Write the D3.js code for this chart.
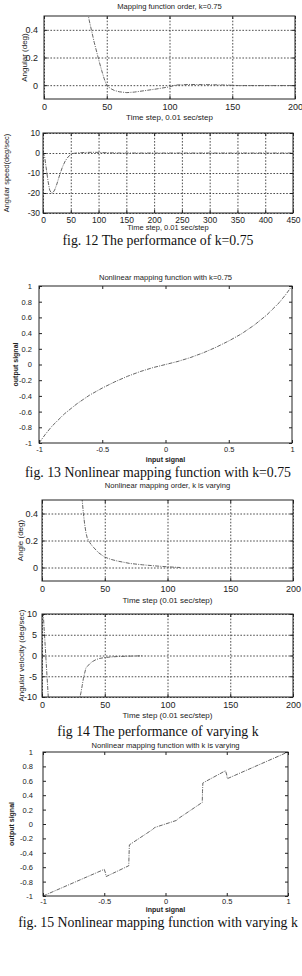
<!DOCTYPE html>
<html>
<head>
<meta charset="utf-8">
<script src="https://cdn.jsdelivr.net/npm/d3@7"></script>
<style>
  body { margin: 0; background: #fff; }
  svg { display: block; }
  .lbl { font-family: "Liberation Sans", Arial, sans-serif; fill: #222; }
  .cap { font-family: "Liberation Serif", "Times New Roman", serif; fill: #111; }
</style>
</head>
<body>
<svg id="chart" width="302" height="976"></svg>
<script>
// fig. 12, top: angle vs time step
const t12a = [30, 33, 35, 36, 38, 40, 42, 44, 46, 48, 50, 53, 56, 60, 66, 72, 80, 90, 100, 105, 115, 130, 145, 155, 170, 200];
const ang12 = [0.9, 0.62, 0.52, 0.47, 0.39, 0.31, 0.24, 0.17, 0.105, 0.045, -0.003, -0.024, -0.038, -0.048, -0.054, -0.05, -0.04, -0.027, -0.012, 0.001, 0.005, 0.004, 0.001, -0.003, -0.003, -0.003];

// fig. 12, bottom: angular speed
const t12s = [0, 3, 6, 9, 12, 15, 18, 21, 25, 30, 35, 40, 45, 50, 55, 60, 70, 80, 90, 100, 110, 120, 140, 160, 200, 250, 300, 350, 400, 450];
const spd12 = [0.5, -2, -8, -14, -18.5, -20, -19.8, -18.5, -15.5, -11, -7, -4, -2, -0.8, -0.2, 0, 0.2, 0.3, 0.35, 0.3, 0.2, 0.1, 0, 0, 0, 0, 0, 0, 0, 0];

// fig. 13: mapping function, k=0.75
const in13 = [-1, -0.95, -0.9, -0.8, -0.7, -0.6, -0.5, -0.4, -0.3, -0.2, -0.1, 0, 0.1, 0.2, 0.3, 0.4, 0.5, 0.6, 0.7, 0.8, 0.9, 0.95, 1];
const out13 = [-1, -0.89, -0.79, -0.63, -0.5, -0.39, -0.3, -0.22, -0.15, -0.09, -0.04, 0, 0.04, 0.09, 0.15, 0.22, 0.3, 0.39, 0.5, 0.63, 0.79, 0.89, 1];

// fig. 14, top: angle
const t14a = [28, 32, 33, 34, 35, 36, 38, 40, 45, 50, 55, 60, 70, 80, 90, 100, 110];
const ang14 = [0.9, 0.5, 0.4, 0.32, 0.26, 0.22, 0.185, 0.16, 0.11, 0.077, 0.06, 0.048, 0.03, 0.02, 0.012, 0.005, 0];

// fig. 14, bottom: angular velocity
const t14v = [0, 1, 2, 3, 4, 5, 6, 10, 20, 28, 30, 31, 32, 33, 35, 38, 40, 43, 46, 50, 55, 60, 70, 80];
const vel14 = [14, 10, 5, 0, -5, -10, -14, -20, -20, -14, -10.5, -9, -7.3, -5.5, -3, -2, -1.5, -1, -0.7, -0.5, -0.35, -0.25, -0.15, -0.08];

// fig. 15: mapping function, varying k
const in15 = [-1, -0.5, -0.49, -0.485, -0.3, -0.298, -0.295, -0.1, -0.09, 0, 0.09, 0.1, 0.3, 0.302, 0.305, 0.49, 0.5, 0.505, 1];
const out15 = [-1, -0.63, -0.68, -0.73, -0.58, -0.45, -0.29, -0.07, -0.05, 0, 0.05, 0.07, 0.3, 0.45, 0.57, 0.74, 0.68, 0.63, 1];

const svg = d3.select("#chart");
const fmt = d => String(+d.toFixed(2));
let clipId = 0;

function panel(o) {
  const w = o.box[2] - o.box[0], h = o.box[3] - o.box[1];
  const g = svg.append("g").attr("transform", `translate(${o.box[0]},${o.box[1]})`);
  const x = d3.scaleLinear().domain(o.xd).range([0, w]);
  const y = d3.scaleLinear().domain(o.yd).range([h, 0]);

  // dotted grid
  if (o.grid) {
    g.append("g")
      .attr("transform", `translate(0,${h})`)
      .call(d3.axisBottom(x).tickValues(o.xt).tickSize(-h).tickFormat(""))
      .call(a => a.select(".domain").remove())
      .selectAll("line")
      .attr("stroke", "#222").attr("stroke-width", 0.8).attr("stroke-dasharray", "1.6,1.6");
    g.append("g")
      .call(d3.axisLeft(y).tickValues(o.yt).tickSize(-w).tickFormat(""))
      .call(a => a.select(".domain").remove())
      .selectAll("line")
      .attr("stroke", "#222").attr("stroke-width", 0.8).attr("stroke-dasharray", "1.6,1.6");
  }

  const id = "clip" + (clipId++);
  g.append("clipPath").attr("id", id)
    .append("rect").attr("width", w).attr("height", h);

  const pts = o.xs.map((v, i) => [v, o.ys[i]]);
  g.append("path")
    .datum(pts)
    .attr("clip-path", `url(#${id})`)
    .attr("fill", "none")
    .attr("stroke", "#555")
    .attr("stroke-width", 0.9)
    .attr("stroke-dasharray", "4,1.2,1,1.2")
    .attr("d", d3.line().x(d => x(d[0])).y(d => y(d[1])));

  // inner ticks on all four sides
  const tk = 3;
  const bottom = g.append("g").attr("transform", `translate(0,${h})`)
    .call(d3.axisBottom(x).tickValues(o.xt).tickSizeInner(-tk).tickSizeOuter(0)
      .tickPadding(o.xpad).tickFormat(fmt));
  const left = g.append("g")
    .call(d3.axisLeft(y).tickValues(o.yt).tickSizeInner(-tk).tickSizeOuter(0)
      .tickPadding(o.ypad).tickFormat(fmt));
  g.append("g").call(d3.axisTop(x).tickValues(o.xt).tickSizeInner(-tk).tickSizeOuter(0).tickFormat(""));
  g.append("g").attr("transform", `translate(${w},0)`)
    .call(d3.axisRight(y).tickValues(o.yt).tickSizeInner(-tk).tickSizeOuter(0).tickFormat(""));
  g.selectAll(".domain").remove();
  g.selectAll(".tick line").filter(function () { return !this.getAttribute("stroke-dasharray"); })
    .attr("stroke", "#222");
  [bottom, left].forEach(a => a.selectAll("text")
    .attr("class", "lbl").attr("font-size", o.fs).attr("fill", "#222"));

  g.append("rect").attr("width", w).attr("height", h)
    .attr("fill", "none").attr("stroke", "#222").attr("stroke-width", 1);

  const cx = (o.box[0] + o.box[2]) / 2, cy = (o.box[1] + o.box[3]) / 2;
  if (o.title) {
    svg.append("text").attr("class", "lbl").attr("x", cx).attr("y", o.title[1])
      .attr("text-anchor", "middle").attr("font-size", 7.6).text(o.title[0]);
  }
  svg.append("text").attr("class", "lbl").attr("x", cx).attr("y", o.xlab[1])
    .attr("text-anchor", "middle").attr("font-size", o.labfs).attr("font-weight", o.labw || "normal")
    .text(o.xlab[0]);
  svg.append("text").attr("class", "lbl")
    .attr("transform", `translate(${o.ylab[1]},${cy}) rotate(-90)`)
    .attr("text-anchor", "middle").attr("font-size", o.ylabfs || o.labfs).attr("font-weight", o.labw || "normal")
    .text(o.ylab[0]);
}

function caption(text, y) {
  svg.append("text").attr("class", "cap").attr("x", 158).attr("y", y)
    .attr("text-anchor", "middle").attr("font-size", 13.8).text(text);
}

panel({
  box: [44, 16, 295, 99], xd: [0, 200], yd: [-0.1, 0.5],
  xt: [0, 50, 100, 150, 200], yt: [0, 0.2, 0.4], grid: true,
  xs: t12a, ys: ang12, fs: 9, xpad: 4.5, ypad: 6, labfs: 8,
  title: ["Mapping function order, k=0.75", 9], xlab: ["Time step, 0.01 sec/step", 120],
  ylab: ["Angular (deg)", 27]
});
panel({
  box: [43, 133, 293, 213], xd: [0, 450], yd: [-30, 10],
  xt: d3.range(0, 451, 50), yt: [-30, -20, -10, 0, 10], grid: true,
  xs: t12s, ys: spd12, fs: 8.5, xpad: 3.5, ypad: 3, labfs: 7.5, ylabfs: 7.4,
  xlab: ["Time step, 0.01 sec/step", 230],
  ylab: ["Angular speed(deg/sec)", 8.5]
});
caption("fig. 12 The performance of k=0.75", 244.5);

panel({
  box: [39, 286, 292, 443], xd: [-1, 1], yd: [-1, 1],
  xt: [-1, -0.5, 0, 0.5, 1], yt: d3.range(-1, 1.01, 0.2).map(v => +v.toFixed(1)), grid: false,
  xs: in13, ys: out13, fs: 7.5, xpad: 3.5, ypad: 7, labfs: 7, labw: "bold",
  title: ["Nonlinear mapping function with k=0.75", 280], xlab: ["input signal", 461.5],
  ylab: ["output signal", 17.5]
});
caption("fig. 13 Nonlinear mapping function with k=0.75", 477);

panel({
  box: [42, 500, 293, 581], xd: [0, 200], yd: [-0.1, 0.5],
  xt: [0, 50, 100, 150, 200], yt: [0, 0.2, 0.4], grid: true,
  xs: t14a, ys: ang14, fs: 9, xpad: 4.5, ypad: 4, labfs: 8,
  title: ["Nonlinear mapping order, k is varying", 488], xlab: ["Time step (0.01 sec/step)", 603],
  ylab: ["Angle (deg)", 23]
});
panel({
  box: [42, 614, 293, 697], xd: [0, 200], yd: [-10, 10],
  xt: [0, 50, 100, 150, 200], yt: [-10, -5, 0, 5, 10], grid: true,
  xs: t14v, ys: vel14, fs: 9, xpad: 4.5, ypad: 5, labfs: 8,
  xlab: ["Time step (0.01 sec/step)", 718],
  ylab: ["Angular velocity (deg/sec)", 24]
});
caption("fig 14 The performance of varying k", 736);

panel({
  box: [43, 752, 288, 896], xd: [-1, 1], yd: [-1, 1],
  xt: [-1, -0.5, 0, 0.5, 1], yt: d3.range(-1, 1.01, 0.2).map(v => +v.toFixed(1)), grid: false,
  xs: in15, ys: out15, fs: 7.5, xpad: 3, ypad: 10, labfs: 7, labw: "bold",
  title: ["Nonlinear mapping function with k is varying", 748], xlab: ["input signal", 912],
  ylab: ["output signal", 13.5]
});
caption("fig. 15 Nonlinear mapping function with varying k", 927);
</script>
</body>
</html>
